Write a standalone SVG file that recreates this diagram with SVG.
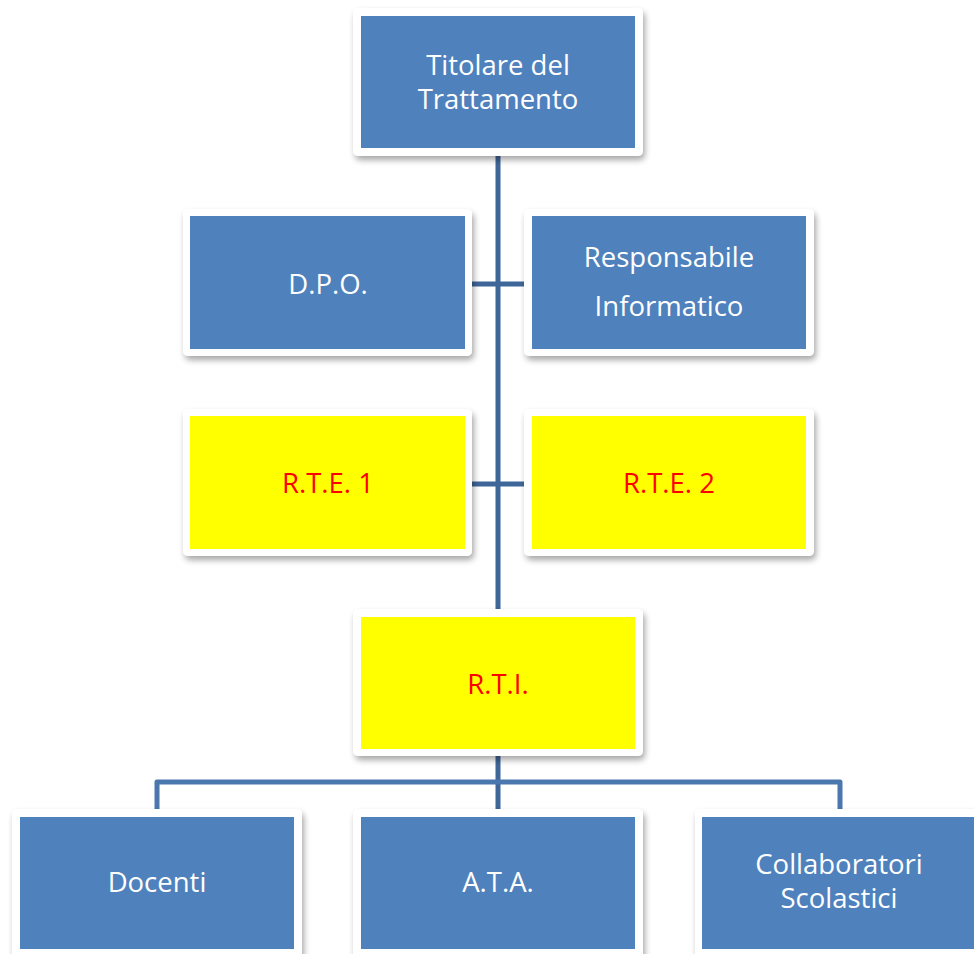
<svg xmlns="http://www.w3.org/2000/svg" width="974" height="954" viewBox="0 0 974 954">
<defs>
<filter id="sh" x="-10%" y="-10%" width="125%" height="130%">
<feGaussianBlur in="SourceAlpha" stdDeviation="3"/>
<feOffset dx="2" dy="4" result="b"/>
<feComponentTransfer><feFuncA type="linear" slope="0.35"/></feComponentTransfer>
<feMerge><feMergeNode/><feMergeNode in="SourceGraphic"/></feMerge>
</filter>
</defs>
<style>
.frame{fill:#ffffff;filter:url(#sh)}
.blue{fill:#4f81bd}
.yel{fill:#ffff00}
.t{font-family:"Open Sans","Liberation Sans",sans-serif;font-size:27.5px;text-anchor:middle}
.w{fill:#ffffff}
.r{fill:#ff0000}
.ln{stroke:#3f6698;stroke-width:5;fill:none}
.ln2{stroke:#4a77ae;stroke-width:5;fill:none;stroke-linejoin:round}
</style>
<rect width="974" height="954" fill="#ffffff"/>
<g id="connectors">
<line class="ln" x1="498" y1="150" x2="498" y2="612"/>
<line class="ln" x1="468" y1="284" x2="528" y2="284"/>
<line class="ln" x1="468" y1="484" x2="528" y2="484"/>
<line class="ln" x1="498" y1="752" x2="498" y2="812"/>
<path class="ln2" d="M157,812 V782 H840 V812"/>
</g>
<g id="titolare">
<rect class="frame" x="353" y="8" width="290" height="148" rx="5"/>
<rect class="blue" x="361" y="16" width="274" height="132"/>
<text class="t w" x="498" y="75">Titolare del</text>
<text class="t w" x="498" y="109">Trattamento</text>
</g>
<g id="dpo">
<rect class="frame" x="183" y="209" width="289" height="147" rx="5"/>
<rect class="blue" x="190" y="216" width="275" height="133"/>
<text class="t w" x="328" y="294">D.P.O.</text>
</g>
<g id="responsabile">
<rect class="frame" x="524" y="209" width="290" height="147" rx="5"/>
<rect class="blue" x="532" y="216" width="274" height="133"/>
<text class="t w" x="669" y="267">Responsabile</text>
<text class="t w" x="669" y="316">Informatico</text>
</g>
<g id="rte1">
<rect class="frame" x="183" y="409" width="289" height="147" rx="5"/>
<rect class="yel" x="190" y="416" width="275" height="133"/>
<text class="t r" x="328" y="493">R.T.E. 1</text>
</g>
<g id="rte2">
<rect class="frame" x="524" y="409" width="290" height="147" rx="5"/>
<rect class="yel" x="532" y="416" width="274" height="133"/>
<text class="t r" x="669" y="493">R.T.E. 2</text>
</g>
<g id="rti">
<rect class="frame" x="353" y="609" width="290" height="147" rx="5"/>
<rect class="yel" x="361" y="617" width="274" height="132"/>
<text class="t r" x="498" y="694">R.T.I.</text>
</g>
<g id="docenti">
<rect class="frame" x="12" y="809" width="290" height="150" rx="5"/>
<rect class="blue" x="20" y="817" width="274" height="132"/>
<text class="t w" x="157" y="892">Docenti</text>
</g>
<g id="ata">
<rect class="frame" x="353" y="809" width="290" height="150" rx="5"/>
<rect class="blue" x="361" y="817" width="274" height="132"/>
<text class="t w" x="498" y="892">A.T.A.</text>
</g>
<g id="collaboratori">
<rect class="frame" x="695" y="809" width="290" height="150" rx="5"/>
<rect class="blue" x="702" y="817" width="274" height="132"/>
<text class="t w" x="839" y="874">Collaboratori</text>
<text class="t w" x="839" y="908">Scolastici</text>
</g>
</svg>
